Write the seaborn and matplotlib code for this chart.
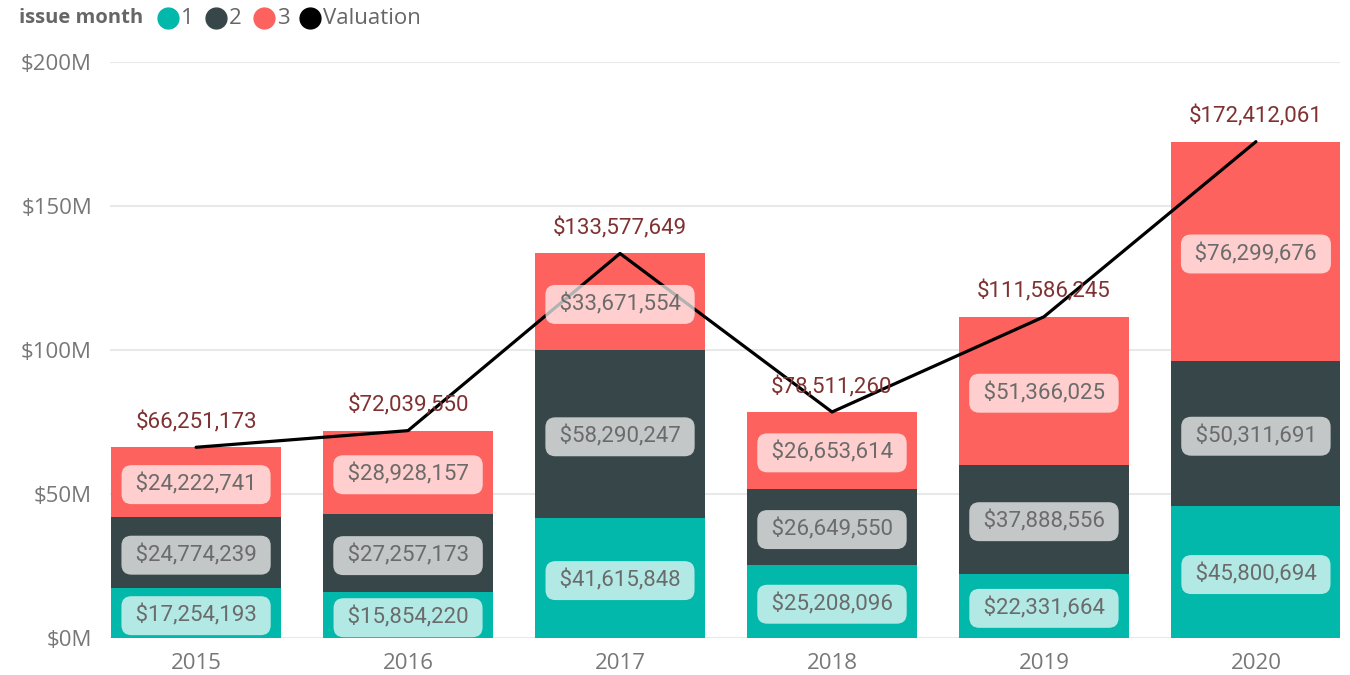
import matplotlib
matplotlib.use("Agg")
import matplotlib.pyplot as plt
from matplotlib.lines import Line2D
import seaborn as sns
import numpy as np

# data
years = ["2015", "2016", "2017", "2018", "2019", "2020"]
month1 = [17254193, 15854220, 41615848, 25208096, 22331664, 45800694]
month2 = [24774239, 27257173, 58290247, 26649550, 37888556, 50311691]
month3 = [24222741, 28928157, 33671554, 26653614, 51366025, 76299676]
valuation = [66251173, 72039550, 133577649, 78511260, 111586245, 172412061]
legend_labels = ["1", "2", "3", "Valuation"]

colors = ["#01B8AA", "#374649", "#FD625E"]
label_font = ["Roboto", "DejaVu Sans"]

sns.set_theme(style="white")
plt.rcParams["font.family"] = ["Open Sans", "DejaVu Sans"]

fig = plt.figure(figsize=(13.5, 6.75), dpi=100)
ax = fig.add_axes([0.0815, 0.0548, 0.911, 0.853])

x = np.arange(len(years))
bottom = np.zeros(len(years))
for vals, col in zip([month1, month2, month3], colors):
    sns.barplot(x=x, y=vals, bottom=bottom, color=col, width=0.8,
                saturation=1, ax=ax, native_scale=True, linewidth=0)
    for xi, b, v in zip(x, bottom, vals):
        ax.text(xi, b + v / 2, f" ${v:,.0f} ", ha="center",
                va="center_baseline", fontsize=16, color="#6b6b6b",
                family=label_font, zorder=5,
                bbox=dict(boxstyle="round,pad=0.38,rounding_size=0.45",
                          fc="white", ec="none", alpha=0.7))
    bottom = bottom + np.array(vals)

sns.lineplot(x=x, y=valuation, color="black", linewidth=2.3, ax=ax, zorder=4)
for xi, v in zip(x, valuation):
    ax.text(xi, v + 8.7e6, f"${v:,.0f}", ha="center", va="center",
            fontsize=16, color="#803232", family=label_font, zorder=5)

ax.set_xlim(-0.406, 5.396)
ax.set_ylim(0, 2e8)
ax.set_yticks([0, 5e7, 1e8, 1.5e8, 2e8])
ax.set_yticklabels(["$0M", "$50M", "$100M", "$150M", "$200M"])
ax.set_xticks(x)
ax.set_xticklabels(years)
ax.tick_params(axis="both", labelsize=16, labelcolor="#777777", length=0)
ax.tick_params(axis="y", pad=13)
ax.tick_params(axis="x", pad=11)
ax.grid(axis="y", color="#e8e8e8", linewidth=1.5)
ax.set_axisbelow(True)
for s in ax.spines.values():
    s.set_visible(False)
ax.set_xlabel("")
ax.set_ylabel("")

# legend, laid out by hand in figure pixels
W, H = 1350, 675
ly = 1 - 18 / H
fig.text(19 / W, ly, "issue month", fontsize=14.5, fontweight="bold",
         color="#666666", va="center")
marker_x = [168, 216, 264, 310]
for mx, c, lab in zip(marker_x, colors + ["black"], legend_labels):
    fig.add_artist(Line2D([mx / W], [ly], marker="o", ls="", color=c,
                          markersize=15, transform=fig.transFigure))
    fig.text((mx + 13) / W, ly, lab, fontsize=16, color="#666666",
             va="center")

fig.savefig("out.png", dpi=100)
